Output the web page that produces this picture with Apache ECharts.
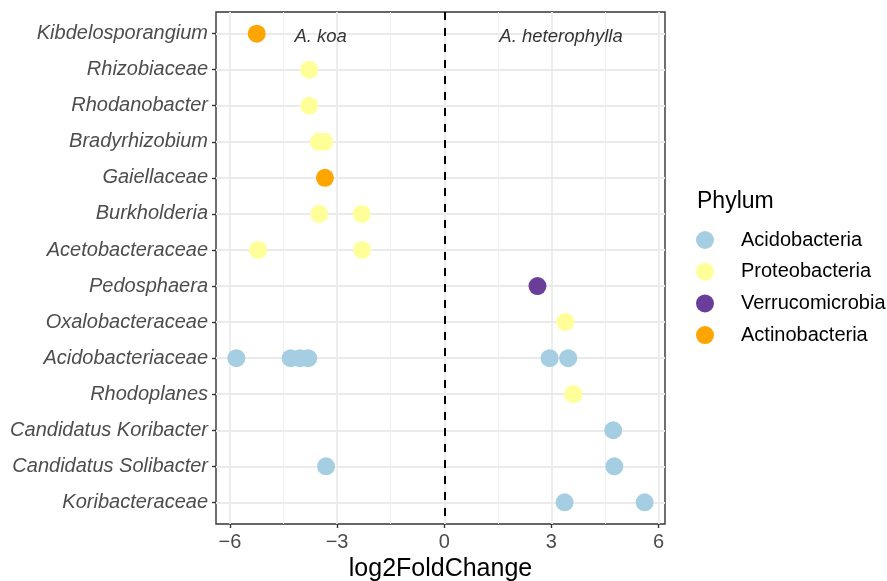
<!DOCTYPE html>
<html>
<head>
<meta charset="utf-8">
<script src="https://cdn.jsdelivr.net/npm/echarts@6/dist/echarts.min.js"></script>
<style>
  html, body { margin: 0; padding: 0; background: #ffffff; }
  #chart { width: 887px; height: 581px; }
</style>
</head>
<body>
<div id="chart"></div>
<script>
// Taxa, listed top to bottom
const taxa = [
  'Kibdelosporangium', 'Rhizobiaceae', 'Rhodanobacter', 'Bradyrhizobium',
  'Gaiellaceae', 'Burkholderia', 'Acetobacteraceae', 'Pedosphaera',
  'Oxalobacteraceae', 'Acidobacteriaceae', 'Rhodoplanes',
  'Candidatus Koribacter', 'Candidatus Solibacter', 'Koribacteraceae'
];

const phyla = ['Acidobacteria', 'Proteobacteria', 'Verrucomicrobia', 'Actinobacteria'];
const phylumColors = ['#A6CEE3', '#FFFF99', '#6A3D9A', '#FFA500'];

// log2 fold change of each differentially abundant OTU: [taxon, value]
const acidobacteria = [
  ['Acidobacteriaceae', -5.82], ['Acidobacteriaceae', -4.30], ['Acidobacteriaceae', -4.04],
  ['Acidobacteriaceae', -3.81], ['Acidobacteriaceae', 2.95], ['Acidobacteriaceae', 3.47],
  ['Candidatus Koribacter', 4.73],
  ['Candidatus Solibacter', -3.31], ['Candidatus Solibacter', 4.76],
  ['Koribacteraceae', 3.37], ['Koribacteraceae', 5.61]
];
const proteobacteria = [
  ['Rhizobiaceae', -3.78], ['Rhodanobacter', -3.78],
  ['Bradyrhizobium', -3.51], ['Bradyrhizobium', -3.36],
  ['Burkholderia', -3.50], ['Burkholderia', -2.31],
  ['Acetobacteraceae', -5.21], ['Acetobacteraceae', -2.30],
  ['Oxalobacteraceae', 3.39], ['Rhodoplanes', 3.61]
];
const verrucomicrobia = [['Pedosphaera', 2.61]];
const actinobacteria = [['Kibdelosporangium', -5.25], ['Gaiellaceae', -3.34]];

const seriesValues = [acidobacteria, proteobacteria, verrucomicrobia, actinobacteria];

// Axis ticks
const xTicks = [-6, -3, 0, 3, 6];
const xMinorLines = [-4.5, -1.5, 1.5, 4.5];

// Host plant labels: [text, log2FoldChange position]
const hostLabels = [['A. koa', -3.46], ['A. heterophylla', 3.27]];

const xMin = -6.39, xMax = 6.18;
const taxonIndex = taxa.map((_, i) => i);
const fontFamily = '"Liberation Sans", Arial, Helvetica, sans-serif';

const chart = echarts.init(document.getElementById('chart'), null, { renderer: 'canvas' });

const pointSeries = phyla.map((name, k) => ({
  name: name,
  type: 'scatter',
  symbol: 'circle',
  symbolSize: 18,
  itemStyle: { color: phylumColors[k], opacity: 1 },
  emphasis: { disabled: true },
  z: 3,
  data: seriesValues[k].map(d => [d[1], taxa.indexOf(d[0])])
}));

const zeroLine = {
  name: 'zero',
  type: 'scatter',
  data: [],
  silent: true,
  markLine: {
    silent: true,
    symbol: 'none',
    label: { show: false },
    lineStyle: { color: '#000000', type: [8, 8], width: 2 },
    data: [{ xAxis: 0 }]
  }
};

const hostText = {
  name: 'host',
  type: 'scatter',
  symbolSize: 0,
  silent: true,
  data: hostLabels.map(h => ({ value: [h[1], 0], name: h[0] })),
  label: {
    show: true,
    position: 'inside',
    offset: [0, 3],
    formatter: p => p.name,
    fontFamily: fontFamily,
    fontStyle: 'italic',
    fontSize: 18.5,
    color: '#000000'
  }
};

chart.setOption({
  backgroundColor: '#ffffff',
  animation: false,
  textStyle: { fontFamily: fontFamily },
  grid: {
    left: 216, right: 222, top: 12, bottom: 57,
    outerBoundsMode: 'none', containLabel: false,
    show: true, borderColor: '#333333', borderWidth: 1.4, backgroundColor: 'transparent'
  },
  title: {
    text: 'Phylum',
    left: 697, top: 190, padding: 0,
    textStyle: { fontFamily: fontFamily, fontSize: 23, fontWeight: 'normal', color: '#000000' }
  },
  legend: {
    data: phyla,
    orient: 'vertical',
    left: 696, top: 230,
    padding: 0,
    itemWidth: 18, itemHeight: 18, itemGap: 11.7,
    icon: 'circle',
    selectedMode: false,
    textStyle: { fontFamily: fontFamily, fontSize: 20, color: '#000000', padding: [0, 0, 0, 22] }
  },
  xAxis: [
    {
      type: 'value', min: xMin, max: xMax,
      name: 'log2FoldChange', nameLocation: 'middle', nameGap: 29,
      nameTextStyle: { fontFamily: fontFamily, fontSize: 25, color: '#000000' },
      axisLine: { show: false, onZero: false },
      axisTick: { show: true, customValues: xTicks, length: 4, lineStyle: { color: '#333333', width: 1.4 } },
      axisLabel: {
        customValues: xTicks, margin: 8,
        formatter: v => String(v).replace('-', '\u2212'),
        fontFamily: fontFamily, fontSize: 20, color: '#4D4D4D'
      },
      splitLine: { show: true, lineStyle: { color: '#EBEBEB', width: 1.8 } }
    },
    {
      type: 'value', min: xMin, max: xMax, position: 'bottom',
      axisLine: { show: false, onZero: false },
      axisTick: { show: false, customValues: xMinorLines },
      axisLabel: { show: false },
      splitLine: { show: true, lineStyle: { color: '#F0F0F0', width: 1 } }
    }
  ],
  yAxis: {
    type: 'value', inverse: true, min: -0.6, max: 13.6,
    axisLine: { show: false, onZero: false },
    axisTick: { show: true, customValues: taxonIndex, length: 4, lineStyle: { color: '#333333', width: 1.4 } },
    axisLabel: {
      customValues: taxonIndex, margin: 8,
      formatter: v => taxa[Math.round(v)],
      fontFamily: fontFamily, fontStyle: 'italic', fontSize: 20, color: '#4D4D4D'
    },
    splitLine: { show: true, lineStyle: { color: '#EBEBEB', width: 1.8 } }
  },
  series: [zeroLine].concat(pointSeries, [hostText])
});
</script>
</body>
</html>
